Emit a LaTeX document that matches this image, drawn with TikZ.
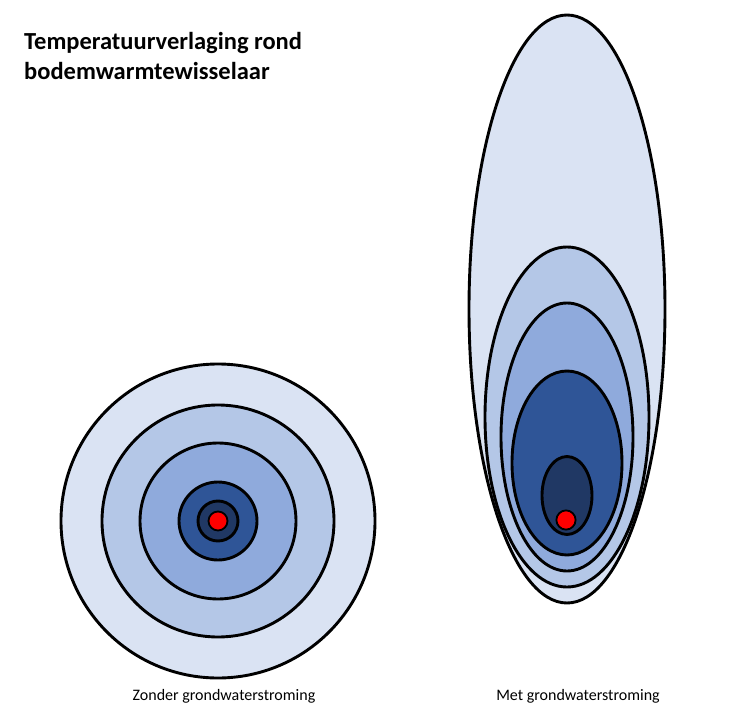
\documentclass[tikz,border=0pt]{standalone}
\usepackage{fontspec}
\setmainfont{Carlito}
\definecolor{blueA}{HTML}{DAE3F3}
\definecolor{blueB}{HTML}{B4C7E7}
\definecolor{blueC}{HTML}{8FAADC}
\definecolor{blueD}{HTML}{2F5597}
\definecolor{blueE}{HTML}{203864}
\begin{document}
\begin{tikzpicture}[x=1pt,y=-1pt,
    zone/.style={draw=black,line width=2.9pt},
    bron/.style={draw=black,fill=red,line width=1.8pt},
    caption/.style={font=\fontsize{16}{19}\selectfont,anchor=base,inner sep=0pt}]
  \useasboundingbox (0,0) rectangle (753,728);
  % zonder stroming
  \coordinate (links) at (218,521);
  \draw[zone,fill=blueA] (links) circle[radius=157];
  \draw[zone,fill=blueB] (links) circle[radius=116];
  \draw[zone,fill=blueC] (links) circle[radius=78];
  \draw[zone,fill=blueD] (links) circle[radius=39];
  \draw[zone,fill=blueE] (links) circle[radius=20];
  \draw[bron] (links) circle[radius=9.5];
  % met stroming
  \draw[zone,fill=blueA] (567,309) ellipse[x radius=98,y radius=294];
  \draw[zone,fill=blueB] (567,417) ellipse[x radius=82,y radius=170];
  \draw[zone,fill=blueC] (567,437) ellipse[x radius=66,y radius=134];
  \draw[zone,fill=blueD] (567,463) ellipse[x radius=55,y radius=92];
  \draw[zone,fill=blueE] (567,495.5) ellipse[x radius=25,y radius=39];
  \coordinate (rechts) at (566,520);
  \draw[bron] (rechts) circle[radius=9.6];
  % teksten
  \node[anchor=base west,inner sep=0pt,align=left,
        font=\fontsize{24.5}{30}\selectfont\bfseries] (titel) at (24,79)
    {Temperatuurverlaging rond\\bodemwarmtewisselaar};
  \node[caption] (zonder) at (224,700) {Zonder grondwaterstroming};
  \node[caption] (met) at (578,700) {Met grondwaterstroming};
\end{tikzpicture}
\end{document}
